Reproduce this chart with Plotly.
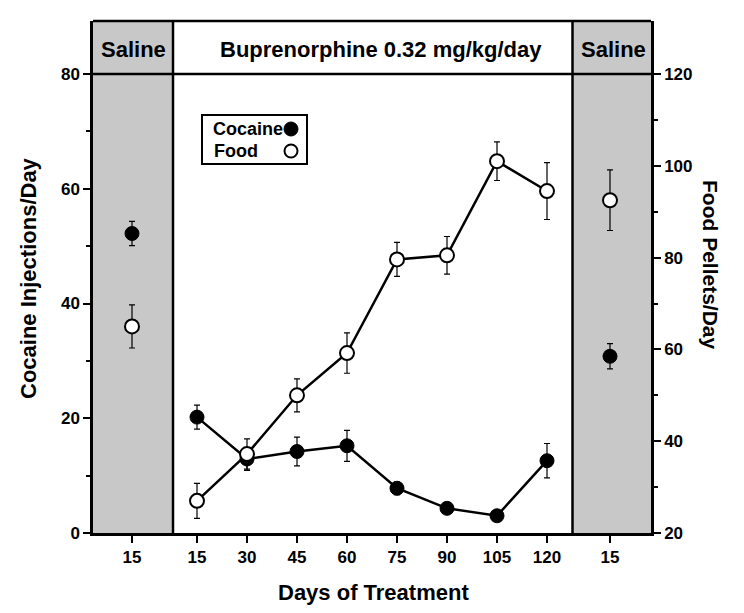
import plotly.graph_objects as go

# treatment days (buprenorphine phase)
days = [15, 30, 45, 60, 75, 90, 105, 120]
cocaine = [20.2, 12.9, 14.2, 15.2, 7.8, 4.3, 3.0, 12.6]
cocaine_err = [2.1, 2.0, 2.5, 2.7, 1.1, 0.6, 0.4, 3.0]
food = [27.0, 37.2, 50.0, 59.2, 79.6, 80.5, 101.0, 94.5]
food_err = [3.8, 3.3, 3.6, 4.4, 3.7, 4.1, 4.2, 6.2]

# saline phases (before / after), day 15 of each
saline_labels = ["15", "15"]
saline_cocaine = [52.2, 30.8]
saline_cocaine_err = [2.1, 2.2]
saline_food = [65.0, 92.5]
saline_food_err = [4.7, 6.6]

FONT = "Liberation Sans, Arial, sans-serif"

# x layout: treatment days sit at 1..8, saline columns either side
x_treat = [i + 1 for i in range(len(days))]
x_saline = [-0.3, 9.26]
x_lo, x_hi = -1.08, 10.08
gray_left, gray_right = 0.52, 8.51

y1_top = 80 * 512 / 459
y2_top = 20 + 100 * 512 / 459

# plot area in screenshot pixels: x 93..651, y 21..533
def px(x):
    return (x - 93) / 558

def py(y):
    return (533 - y) / 512

fig = go.Figure()

err_style = dict(type="data", color="black", thickness=1.2, width=3)

fig.add_trace(go.Scatter(
    x=x_treat, y=cocaine, mode="lines+markers",
    error_y=dict(array=cocaine_err, **err_style),
    line=dict(color="black", width=2.5),
    marker=dict(size=14, color="black", line=dict(color="black", width=1)),
    showlegend=False, name="Cocaine"))
fig.add_trace(go.Scatter(
    x=x_saline, y=saline_cocaine, mode="markers",
    error_y=dict(array=saline_cocaine_err, **err_style),
    marker=dict(size=14, color="black", line=dict(color="black", width=1)),
    showlegend=False, name="Cocaine saline"))
fig.add_trace(go.Scatter(
    x=x_treat, y=food, mode="lines+markers", yaxis="y2",
    error_y=dict(array=food_err, **err_style),
    line=dict(color="black", width=2.5),
    marker=dict(size=14, color="white", line=dict(color="black", width=2)),
    showlegend=False, name="Food"))
fig.add_trace(go.Scatter(
    x=x_saline, y=saline_food, mode="markers", yaxis="y2",
    error_y=dict(array=saline_food_err, **err_style),
    marker=dict(size=14, color="white", line=dict(color="black", width=2)),
    showlegend=False, name="Food saline"))

shapes = [
    dict(type="rect", xref="x", yref="paper", x0=x_lo, x1=gray_left, y0=0, y1=1,
         fillcolor="#c8c8c8", line=dict(width=0), layer="below"),
    dict(type="rect", xref="x", yref="paper", x0=gray_right, x1=x_hi, y0=0, y1=1,
         fillcolor="#c8c8c8", line=dict(width=0), layer="below"),
    dict(type="line", xref="x", yref="paper", x0=gray_left, x1=gray_left, y0=0, y1=1,
         line=dict(color="black", width=2.5)),
    dict(type="line", xref="x", yref="paper", x0=gray_right, x1=gray_right, y0=0, y1=1,
         line=dict(color="black", width=2.5)),
    dict(type="line", xref="paper", yref="y", x0=0, x1=1, y0=80, y1=80,
         line=dict(color="black", width=2.5)),
    dict(type="line", xref="paper", yref="paper", x0=0, x1=1, y0=1, y1=1,
         line=dict(color="black", width=2.5)),
    # legend box
    dict(type="rect", xref="paper", yref="paper", x0=px(202), x1=px(307), y0=py(164), y1=py(115),
         fillcolor="white", line=dict(color="black", width=2)),
    dict(type="circle", xref="paper", yref="paper",
         x0=px(284), x1=px(298), y0=py(136), y1=py(122),
         fillcolor="black", line=dict(color="black", width=1)),
    dict(type="circle", xref="paper", yref="paper",
         x0=px(284.5), x1=px(297.5), y0=py(157.5), y1=py(144.5),
         fillcolor="white", line=dict(color="black", width=2)),
]

bold = dict(family=FONT, size=22, color="black", weight="bold")
legend_font = dict(family=FONT, size=18, color="black", weight="bold")
annotations = [
    dict(text="Saline", xref="x", yref="y", x=(x_lo + gray_left) / 2, y=84.2,
         xanchor="center", yanchor="middle", showarrow=False, font=bold),
    dict(text="Buprenorphine 0.32 mg/kg/day", xref="x", yref="y", x=4.68, y=84.2,
         xanchor="center", yanchor="middle", showarrow=False, font=bold),
    dict(text="Saline", xref="x", yref="y", x=(gray_right + x_hi) / 2 + 0.03, y=84.2,
         xanchor="center", yanchor="middle", showarrow=False, font=bold),
    dict(text="Cocaine", xref="paper", yref="paper", x=px(211), y=py(129),
         xanchor="left", yanchor="middle", showarrow=False, font=legend_font),
    dict(text="Food", xref="paper", yref="paper", x=px(212), y=py(151),
         xanchor="left", yanchor="middle", showarrow=False, font=legend_font),
    dict(text="Cocaine Injections/Day", xref="paper", yref="paper", x=px(28), y=py(278),
         xanchor="center", yanchor="middle", textangle=-90, showarrow=False, font=bold),
    dict(text="Food Pellets/Day", xref="paper", yref="paper", x=px(711), y=py(265),
         xanchor="center", yanchor="middle", textangle=90, showarrow=False,
         font=dict(family=FONT, size=21, color="black", weight="bold")),
    dict(text="Days of Treatment", xref="paper", yref="paper", x=px(373), y=py(592),
         xanchor="center", yanchor="middle", showarrow=False, font=bold),
]

tickfont = dict(family=FONT, size=17, color="black", weight="bold")

# page body adds an 8px offset, so margins are shifted to land the plot area on 93..651 / 21..533
fig.update_layout(
    width=744, height=613,
    margin=dict(l=85, r=101, t=13, b=88),
    plot_bgcolor="white", paper_bgcolor="white",
    showlegend=False,
    shapes=shapes, annotations=annotations,
    xaxis=dict(range=[x_lo, x_hi], tickvals=[x_saline[0]] + x_treat + [x_saline[1]],
               ticktext=[saline_labels[0]] + [str(d) for d in days] + [saline_labels[1]],
               showgrid=False, zeroline=False, showline=True, linecolor="black", linewidth=2.5,
               ticks="outside", ticklen=7, tickwidth=2, tickcolor="black", tickfont=tickfont),
    yaxis=dict(range=[0, y1_top], tickvals=[0, 20, 40, 60, 80],
               showgrid=False, zeroline=False, showline=True, linecolor="black", linewidth=2.5,
               ticks="outside", ticklen=7, tickwidth=2, tickcolor="black", tickfont=tickfont,
               minor=dict(tickvals=[10, 30, 50, 70], ticks="outside", ticklen=4,
                          tickwidth=2, tickcolor="black", showgrid=False)),
    yaxis2=dict(range=[20, y2_top], tickvals=[20, 40, 60, 80, 100, 120], overlaying="y", side="right",
                showgrid=False, zeroline=False, showline=True, linecolor="black", linewidth=2.5,
                ticks="outside", ticklen=7, tickwidth=2, tickcolor="black", tickfont=tickfont,
                minor=dict(tickvals=[30, 50, 70, 90, 110], ticks="outside", ticklen=4,
                           tickwidth=2, tickcolor="black", showgrid=False)),
)

fig.write_html("out.html")
